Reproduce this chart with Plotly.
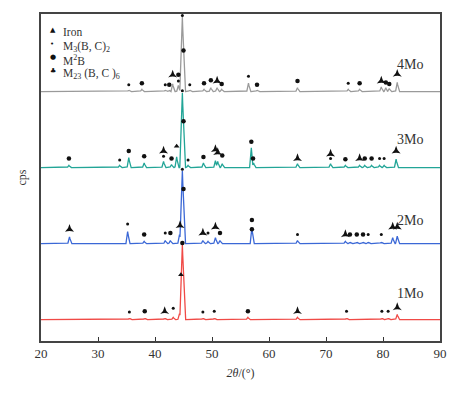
import numpy as np
import plotly.graph_objects as go

# ---------------- data ----------------
x_ticks = [20, 30, 40, 50, 60, 70, 80, 90]
samples = ["1Mo", "2Mo", "3Mo", "4Mo"]
offsets = [0, 100, 200, 300]
line_colors = ["#f04a46", "#3b68d6", "#22a597", "#9a9a9a"]

# peak positions (2θ, °) and relative intensities
pk_1Mo_pos = [35.5, 38.2, 41.7, 43.2, 44.3, 44.8, 48.4, 50.4, 56.3, 65.0, 73.6, 79.8, 80.9, 82.5]
pk_1Mo_int = [2, 2, 2, 3, 8, 99, 2, 2, 3, 3, 2, 2, 2, 7]

pk_2Mo_pos = [25.0, 35.2, 38.1, 41.8, 42.7, 44.3, 44.8, 48.4, 49.3, 50.6, 51.4, 57.0, 65.0,
              73.4, 74.2, 75.4, 76.5, 77.4, 79.7, 81.7, 82.5]
pk_2Mo_int = [9, 16, 3, 4, 4, 12, 96, 4, 3, 8, 4, 21, 4, 3, 2, 2, 2, 2, 2, 8, 10]

pk_3Mo_pos = [24.9, 33.8, 35.4, 38.1, 41.5, 42.9, 43.8, 44.8, 45.8, 48.5, 50.6, 51.0, 51.8,
              56.9, 57.3, 65.0, 70.8, 73.4, 75.9, 76.8, 78.0, 79.4, 80.2, 82.3]
pk_3Mo_int = [3, 3, 13, 6, 8, 4, 14, 98, 3, 6, 9, 8, 5, 26, 6, 5, 5, 3, 3, 3, 3, 3, 3, 11]

pk_4Mo_pos = [35.4, 37.7, 41.8, 42.5, 43.1, 44.1, 44.8, 46.1, 48.6, 49.8, 50.9, 51.7, 56.4,
              57.9, 65.0, 73.9, 75.9, 79.7, 80.5, 81.1, 82.5]
pk_4Mo_int = [2, 3, 2, 2, 10, 8, 98, 2, 3, 5, 5, 3, 11, 2, 5, 3, 3, 6, 5, 4, 12]

# phase marks: 2θ, height above the pattern baseline, phase
mk_1Mo_x = [35.5, 38.2, 41.7, 43.2, 44.55, 44.8, 48.4, 50.4, 56.3, 65.0, 73.6, 79.8, 80.9, 82.5]
mk_1Mo_y = [8, 9, 9, 13, 57, 99, 8, 9, 9, 9, 9, 9, 9, 14]
mk_1Mo_p = ["M3", "M2B", "M23", "M3", "Fe", "M2B", "M3", "M3", "M2B", "M23", "M3", "M3", "M3", "M23"]

mk_2Mo_x = [25.0, 35.2, 38.1, 41.8, 42.7, 44.4, 44.8, 45.0, 48.4, 49.3, 50.6, 51.4, 57.0, 57.0,
            65.0, 73.4, 74.2, 75.4, 76.5, 77.4, 79.7, 81.7, 82.5]
mk_2Mo_y = [17, 24, 10, 12, 12, 22, 96, 70, 12, 12, 20, 12, 29, 17,
            10, 10, 10, 10, 10, 10, 10, 20, 20]
mk_2Mo_p = ["M23", "M3", "M2B", "M3", "M2B", "M23", "M3", "M2B", "M23", "M3", "M23", "M2B", "M2B", "M2B",
            "M3", "M23", "M2B", "M2B", "M2B", "M3", "M3", "M23", "M23"]

mk_3Mo_x = [24.9, 33.8, 35.4, 38.1, 41.5, 41.5, 42.9, 43.8, 44.8, 45.0, 45.8, 48.5, 50.6, 51.0,
            51.8, 56.9, 57.2, 65.0, 70.8, 70.8, 73.4, 75.9, 76.8, 78.0, 79.4, 80.2, 82.3]
mk_3Mo_y = [10, 8, 20, 13, 20, 13, 10, 26, 99, 59, 8, 12, 22, 18,
            14, 32, 10, 10, 16, 10, 9, 10, 10, 10, 10, 10, 20]
mk_3Mo_p = ["M2B", "M3", "M2B", "M2B", "M23", "M3", "M2B", "Fe", "M3", "M2B", "M3", "M2B", "M23", "M23",
            "M2B", "M2B", "M2B", "M23", "M23", "M3", "M2B", "M23", "M2B", "M2B", "M3", "M3", "M23"]

mk_4Mo_x = [35.4, 37.7, 41.8, 42.5, 43.1, 44.1, 44.1, 44.8, 45.0, 46.1, 48.6, 49.8, 50.9, 51.7,
            56.4, 57.9, 65.0, 73.9, 75.9, 79.7, 80.5, 81.1, 82.5]
mk_4Mo_y = [7, 9, 7, 7, 20, 20, 12, 98, 52, 7, 9, 13, 12, 8,
            18, 7, 12, 9, 9, 12, 10, 8, 21]
mk_4Mo_p = ["M3", "M2B", "M3", "M2B", "M23", "M2B", "M3", "M3", "M2B", "M3", "M2B", "M2B", "M23", "M2B",
            "M3", "M2B", "M2B", "M3", "M2B", "M23", "M2B", "M2B", "M23"]

phases = ["Fe", "M3", "M2B", "M23"]
phase_names = ["Iron", "M<sub>3</sub>(B, C)<sub>2</sub>", "M<sup>2</sup>B", "M<sub>23</sub> (B, C )<sub>6</sub>"]
phase_glyphs = ["▲", "•", "●", "♣"]
phase_symbols = ["triangle-up", "circle", "circle", "star-triangle-up"]
phase_sizes = [5, 3, 4.5, 6.5]

peaks = [(pk_1Mo_pos, pk_1Mo_int), (pk_2Mo_pos, pk_2Mo_int), (pk_3Mo_pos, pk_3Mo_int), (pk_4Mo_pos, pk_4Mo_int)]
marks = [(mk_1Mo_x, mk_1Mo_y, mk_1Mo_p), (mk_2Mo_x, mk_2Mo_y, mk_2Mo_p),
         (mk_3Mo_x, mk_3Mo_y, mk_3Mo_p), (mk_4Mo_x, mk_4Mo_y, mk_4Mo_p)]

SERIF = "Liberation Serif, Times New Roman, serif"

fig = go.Figure()

# diffraction profiles: sharp peaks on a flat baseline, built from the peak lists
grid = np.round(np.arange(20, 90.001, 0.02), 3)
for (pos, inten), off, col, name in zip(peaks, offsets, line_colors, samples):
    prof = np.zeros_like(grid)
    for p, h in zip(pos, inten):
        w = 0.45 if h > 50 else 0.3
        prof = np.maximum(prof, h * np.clip(1 - np.abs(grid - p) / w, 0, None))
    fig.add_trace(go.Scatter(x=grid, y=prof + off, mode="lines", name=name,
                             line=dict(color=col, width=1.3), showlegend=False,
                             hoverinfo="skip"))

# phase marks
for ph, sym, sz, nm in zip(phases, phase_symbols, phase_sizes, phase_names):
    xs, ys = [], []
    for (mx, my, mp), off in zip(marks, offsets):
        for a, b, c in zip(mx, my, mp):
            if c == ph:
                xs.append(a)
                ys.append(b + off + 2)
    fig.add_trace(go.Scatter(x=xs, y=ys, mode="markers", name=nm,
                             marker=dict(symbol=sym, size=sz, color="#111", line=dict(width=0)),
                             showlegend=False, hoverinfo="skip"))

# sample labels
label_rel = [35, 30, 37, 35]
for name, off, lr in zip(samples, offsets, label_rel):
    fig.add_annotation(x=84.8, y=off + lr, text=name, showarrow=False,
                       font=dict(family=SERIF, size=14, color="#333"))

# legend block (top-left, inside the frame)
leg_y = [0.968, 0.928, 0.886, 0.844]
for g, nm, yy in zip(phase_glyphs, phase_names, leg_y):
    fig.add_annotation(xref="paper", yref="paper", x=0.018, y=yy, text=g, showarrow=False,
                       font=dict(family="DejaVu Sans", size=7, color="#111"))
    fig.add_annotation(xref="paper", yref="paper", x=0.05, y=yy, text=nm, showarrow=False,
                       xanchor="left", font=dict(family=SERIF, size=11.5, color="#333"))

fig.update_layout(
    width=456, height=402,
    margin=dict(l=41, r=9, t=14, b=61),
    paper_bgcolor="white", plot_bgcolor="white",
    font=dict(family=SERIF, color="#333"),
    showlegend=False,
)
fig.update_xaxes(range=[20, 90], tickvals=x_ticks, ticks="inside", ticklen=4, tickwidth=1,
                 tickcolor="#333", showgrid=False, zeroline=False,
                 showline=True, linecolor="#444", linewidth=1.5, mirror=True,
                 tickfont=dict(family=SERIF, size=13, color="#333"),
                 title=dict(text="<i>2θ</i>/(°)", font=dict(family=SERIF, size=12, color="#333"), standoff=8))
fig.update_yaxes(range=[-28, 402], showticklabels=False, ticks="", showgrid=False, zeroline=False,
                 showline=True, linecolor="#444", linewidth=1.5, mirror=True,
                 title=dict(text="cps", font=dict(family=SERIF, size=12, color="#333"), standoff=10))

fig.write_html("out.html")
